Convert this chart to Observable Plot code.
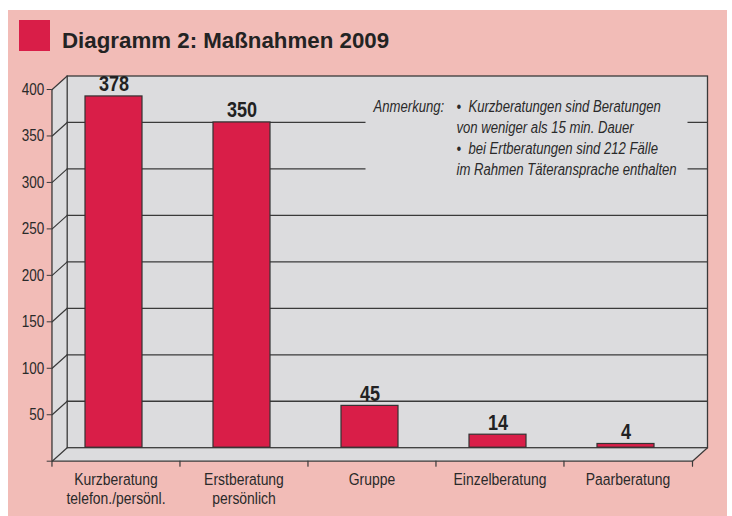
<!DOCTYPE html>
<html><head><meta charset="utf-8">
<script src="https://cdn.jsdelivr.net/npm/d3@7"></script>
<script src="https://cdn.jsdelivr.net/npm/@observablehq/plot@0.6"></script>
<style>
html,body{margin:0;padding:0;background:#fff;}
#wrap{position:relative;width:732px;height:516px;overflow:hidden;}
#panel{position:absolute;left:8px;top:10px;width:719px;height:506px;background:#f2bcb7;}
#square{position:absolute;left:19px;top:20px;width:31px;height:31px;background:#d91e48;}
#title{position:absolute;left:62px;top:30px;font:bold 22.3px/22px "Liberation Sans",Arial,sans-serif;color:#232323;white-space:nowrap;}
#chart{position:absolute;left:0;top:0;}
</style></head>
<body><div id="wrap"><div id="panel"></div><div id="square"></div><div id="title"></div><div id="chart"></div></div>
<script>
const titleText = "Diagramm 2: Maßnahmen 2009";
const categories = ["Kurzberatung\ntelefon./persönl.", "Erstberatung\npersönlich", "Gruppe", "Einzelberatung", "Paarberatung"];
const values = [378, 350, 45, 14, 4];
const yTicks = [0, 50, 100, 150, 200, 250, 300, 350, 400];
const noteLabel = "Anmerkung:";
const noteLines = ["•\u00a0\u00a0Kurzberatungen sind Beratungen", "von weniger als 15 min. Dauer", "•\u00a0\u00a0bei Ertberatungen sind 212 Fälle", "im Rahmen Täteransprache enthalten"];

document.getElementById("title").textContent = titleText;
const data = categories.map((c, i) => ({category: c, value: values[i]}));

const W = 732, H = 516;
const mL = 51.7, mR = 40, mT = 89, mB = 55.3;
const step = (W - mL - mR) / categories.length;
const DX = 15, DY = -13.5;
const depthLen = Math.hypot(DX, DY);
const depthAngle = Math.atan2(DX, -DY) * 180 / Math.PI;
const WALL = "#dcdcde", LINE = "#3a3a3a", BAR = "#d91e48";
const FONT = "'Liberation Sans',Arial,sans-serif";
const CONDENSE = 0.82;

const chart = Plot.plot({
  width: W, height: H,
  marginLeft: mL, marginRight: mR, marginTop: mT, marginBottom: mB,
  style: {background: "transparent", color: "#2a2a2a", fontFamily: FONT, overflow: "visible"},
  x: {type: "band", domain: categories, paddingInner: 0.555, paddingOuter: 0.2775, axis: null},
  y: {domain: [0, 400], axis: null},
  marks: [
    ...d3.range(16).map(i => Plot.frame({fill: WALL, stroke: "none", dx: i * DX / 15, dy: i * DY / 15})),
    Plot.frame({stroke: LINE, strokeWidth: 1.3, dx: DX, dy: DY}),
    Plot.ruleY(yTicks.filter(d => d > 0 && d < 400), {stroke: LINE, strokeWidth: 1.3, dx: DX, dy: DY}),
    Plot.frame({fill: WALL, stroke: "none", insetLeft: 313.3, insetRight: 5, insetTop: 6, insetBottom: 278.7}),
    Plot.vector(yTicks, {y: d => d, frameAnchor: "left", length: depthLen, rotate: depthAngle, anchor: "start", r: 0, stroke: LINE, strokeWidth: 1.2}),
    Plot.vector([null], {frameAnchor: "bottom-right", length: depthLen, rotate: depthAngle, anchor: "start", r: 0, stroke: LINE, strokeWidth: 1.2}),
    Plot.ruleY([0], {stroke: LINE, strokeWidth: 1.3}),
    Plot.ruleX([categories[0]], {x: d => d, dx: -step / 2, stroke: LINE, strokeWidth: 1.3}),
    Plot.vector(categories, {x: d => d, frameAnchor: "bottom", dx: -step / 2, length: 5, rotate: 180, anchor: "start", r: 0, stroke: LINE, strokeWidth: 1.2}),
    Plot.vector([null], {frameAnchor: "bottom-right", length: 5, rotate: 180, anchor: "start", r: 0, stroke: LINE, strokeWidth: 1.2}),
    Plot.axisY({ticks: yTicks, tickSize: 5, tickPadding: 3, tickFormat: d => d === 0 ? "" : String(d), fontSize: 16.5, label: null, stroke: LINE, fill: "#2a2a2a"}),
    Plot.barY(data, {x: "category", y: "value", fill: BAR, stroke: "#333", strokeWidth: 1.2, dx: -2, dy: DY}),
    Plot.text(data, {x: "category", y: "value", text: d => String(d.value), dx: -2, dy: DY - 5, lineAnchor: "bottom", fontSize: 22, fontWeight: "bold", fill: "#222"}),
    Plot.text([noteLabel], {frameAnchor: "top-left", text: d => d, dx: 321.3, dy: 8.1, textAnchor: "start", lineAnchor: "top", lineHeight: 1.3125, fontSize: 16, fontStyle: "italic", fill: "#2a2a2a"}),
    Plot.text([noteLines.join("\n")], {frameAnchor: "top-left", text: d => d, dx: 404.3, dy: 8.1, textAnchor: "start", lineAnchor: "top", lineHeight: 1.3125, fontSize: 16, fontStyle: "italic", fill: "#2a2a2a"}),
    Plot.text(categories, {x: d => d, text: d => d, frameAnchor: "bottom", dy: 11, lineAnchor: "top", lineHeight: 1.09, fontSize: 17, fill: "#2a2a2a"})
  ]
});
// condensed type: narrow every label horizontally around its own anchor
chart.querySelectorAll("text").forEach(t => {
  const tr = t.getAttribute("transform");
  if (tr) {
    t.setAttribute("transform", tr + ` scale(${CONDENSE},1)`);
  } else {
    const x = +(t.getAttribute("x") || 0), y = +(t.getAttribute("y") || 0);
    t.setAttribute("transform", `translate(${x},${y}) scale(${CONDENSE},1) translate(${-x},${-y})`);
  }
});
document.getElementById("chart").appendChild(chart);
</script></body></html>
